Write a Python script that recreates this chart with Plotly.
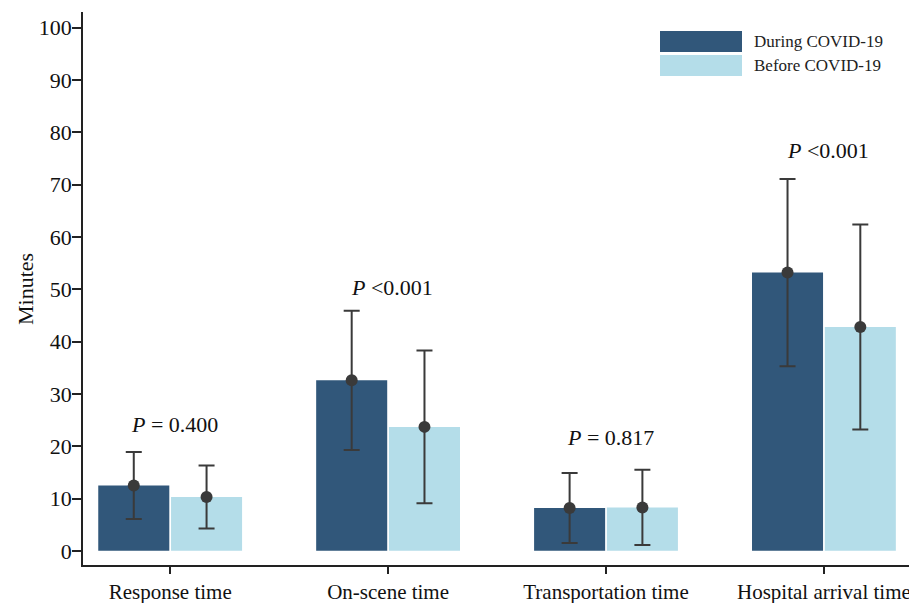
import plotly.graph_objects as go

categories = ["Response time", "On-scene time", "Transportation time", "Hospital arrival time"]
during_mean = [12.5, 32.6, 8.2, 53.2]
during_sd = [6.4, 13.3, 6.7, 17.9]
before_mean = [10.3, 23.7, 8.3, 42.8]
before_sd = [6.0, 14.6, 7.2, 19.6]
p_labels = ["<i>P</i> = 0.400", "<i>P</i> &lt;0.001", "<i>P</i> = 0.817", "<i>P</i> &lt;0.001"]
p_y = [24.2, 50.4, 21.6, 76.5]
series_names = ["During COVID-19", "Before COVID-19"]
y_ticks = list(range(0, 101, 10))

DARK = "#31577a"
LIGHT = "#b4dde9"
ERR = "#3a3a3a"
FONT = "Liberation Serif"
BW = 0.326

idx = list(range(len(categories)))
fig = go.Figure()

fig.add_trace(go.Bar(x=idx, y=during_mean, width=BW, offset=-BW - 0.004,
                     marker=dict(color=DARK, line=dict(width=0)), name=series_names[0],
                     showlegend=False))
fig.add_trace(go.Bar(x=idx, y=before_mean, width=BW, offset=0.004,
                     marker=dict(color=LIGHT, line=dict(width=0)), name=series_names[1],
                     showlegend=False))

for means, sds, sign in [(during_mean, during_sd, -1), (before_mean, before_sd, 1)]:
    fig.add_trace(go.Scatter(
        x=[i + sign * (BW / 2 + 0.004) for i in idx], y=means, mode="markers",
        marker=dict(color=ERR, size=12),
        error_y=dict(type="data", array=sds, visible=True, color=ERR, thickness=2, width=8),
        showlegend=False, hoverinfo="skip"))

for i, (lab, yy) in enumerate(zip(p_labels, p_y)):
    fig.add_annotation(x=i + 0.02, y=yy, text=lab, showarrow=False,
                       font=dict(family=FONT, size=22, color="#111"))

# page body has an 8px margin; compensate so the plot lands at x 83..910, y 12..565
W, H = 909, 595
ML, MR, MT, MB = 75, 7, 4, 38
PW = W - ML - MR
PH = H - MT - MB
X0, Y0 = 8 + ML, 8 + MT

leg = [(series_names[0], DARK, 41.5), (series_names[1], LIGHT, 65.5)]
for name, col, ypx in leg:
    yc = 1 - (ypx - Y0) / PH
    fig.add_shape(type="rect", xref="paper", yref="paper",
                  x0=(660 - X0) / PW, x1=(742 - X0) / PW,
                  y0=yc - 10.5 / PH, y1=yc + 10.5 / PH, fillcolor=col, line=dict(width=0))
    fig.add_annotation(xref="paper", yref="paper", x=(752 - X0) / PW, y=yc, text=name,
                       xanchor="left", yanchor="middle", showarrow=False,
                       font=dict(family=FONT, size=17, color="#222"))

fig.add_annotation(xref="paper", yref="paper", x=(25 - X0) / PW, y=1 - (289 - Y0) / PH,
                   text="Minutes", textangle=-90, showarrow=False,
                   xanchor="center", yanchor="middle",
                   font=dict(family=FONT, size=22, color="#111"))

fig.update_layout(
    width=W, height=H,
    margin=dict(l=ML, r=MR, t=MT, b=MB),
    plot_bgcolor="white", paper_bgcolor="white",
    barmode="overlay",
    font=dict(family=FONT, size=18, color="#111"),
    xaxis=dict(range=[-0.4, 3.395], tickmode="array", tickvals=idx, ticktext=categories,
               showline=True, linecolor="#222", linewidth=1.5, ticks="outside",
               ticklen=7, tickwidth=1.5, tickcolor="#222", showgrid=False, zeroline=False,
               automargin=False, tickfont=dict(family=FONT, size=21)),
    yaxis=dict(range=[-2.7, 103], tickmode="array", tickvals=y_ticks,
               showline=True, linecolor="#222", linewidth=1.5, ticks="outside",
               ticklen=9, tickwidth=1.5, tickcolor="#222", showgrid=False, zeroline=False,
               automargin=False, ticklabelstandoff=-4, tickfont=dict(family=FONT, size=22)),
)

fig.write_html("out.html")
